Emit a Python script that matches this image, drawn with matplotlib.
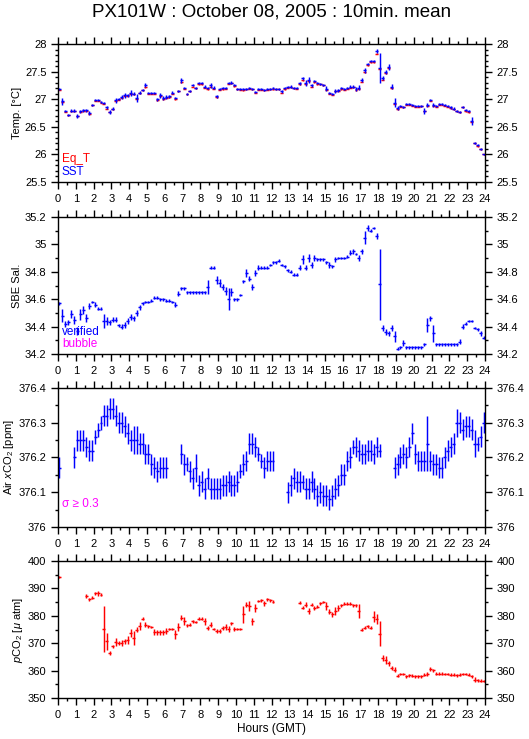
import numpy as np
import matplotlib
matplotlib.use("Agg")
import matplotlib.pyplot as plt
from matplotlib.ticker import MultipleLocator, FuncFormatter

plt.rcParams['font.family'] = ['Liberation Sans', 'DejaVu Sans']
plt.rcParams['mathtext.fontset'] = 'custom'
plt.rcParams['mathtext.rm'] = 'Liberation Sans'
plt.rcParams['mathtext.it'] = 'Liberation Sans:italic'
plt.rcParams['mathtext.sf'] = 'Liberation Sans'

nan = np.nan

# ---- Data: 10-minute bins, 6 values per hour (hour 0 .. 23) ----
sst = [
    27.19, 26.96, 26.78, 26.72, 26.79, 26.79,
    26.70, 26.78, 26.80, 26.80, 26.75, 26.90,
    26.98, 26.98, 26.95, 26.93, 26.85, 26.77,
    26.83, 26.98, 27.00, 27.04, 27.07, 27.07,
    27.11, 27.10, 27.02, 27.12, 27.17, 27.26,
    27.11, 27.11, 27.11, 27.00, 27.07, 27.02,
    27.04, 27.05, 27.12, 27.02, 27.15, 27.34,
    27.20, 27.10, 27.15, 27.26, 27.21, 27.29,
    27.29, 27.23, 27.20, 27.25, 27.21, 27.05,
    27.19, 27.20, 27.21, 27.30, 27.30, 27.26,
    27.19, 27.19, 27.18, 27.19, 27.20, 27.19,
    27.13, 27.18, 27.18, 27.17, 27.18, 27.19,
    27.20, 27.19, 27.19, 27.14, 27.20, 27.22,
    27.23, 27.21, 27.20, 27.29, 27.38, 27.29,
    27.35, 27.25, 27.33, 27.29, 27.28, 27.26,
    27.19, 27.11, 27.09, 27.15, 27.16, 27.20,
    27.18, 27.20, 27.23, 27.23, 27.18, 27.21,
    27.35, 27.52, 27.64, 27.69, 27.69, 27.87,
    27.56, 27.38, 27.49, 27.58, 27.23, 26.94,
    26.84, 26.87, 26.86, 26.91, 26.91, 26.89,
    26.87, 26.87, 26.88, 26.79, 26.89, 26.98,
    26.89, 26.87, 26.91, 26.91, 26.89, 26.87,
    26.85, 26.83, 26.79, 26.77, 26.86, 26.80,
    26.78, 26.61, 26.21, 26.17, 26.10, 26.00,
]
sst_err = [
    .02, .06, .02, .02, .03, .03,
    .04, .03, .03, .03, .04, .02,
    .02, .02, .02, .02, .03, .03,
    .02, .04, .02, .03, .05, .03,
    .05, .03, .07, .02, .02, .03,
    .02, .02, .02, .03, .04, .04,
    .04, .03, .03, .02, .02, .04,
    .02, .02, .02, .02, .02, .02,
    .02, .02, .02, .05, .03, .02,
    .02, .02, .02, .02, .03, .02,
    .02, .02, .02, .02, .02, .02,
    .02, .02, .02, .02, .02, .02,
    .02, .02, .02, .02, .02, .02,
    .02, .02, .02, .03, .03, .05,
    .05, .03, .02, .02, .02, .02,
    .05, .02, .02, .03, .03, .02,
    .02, .02, .02, .02, .04, .04,
    .04, .04, .02, .02, .02, .04,
    .27, .04, .03, .05, .05, .08,
    .03, .02, .02, .02, .02, .02,
    .02, .02, .02, .05, .04, .02,
    .04, .02, .02, .02, .02, .02,
    .02, .02, .02, .02, .02, .02,
    .02, .07, .02, .02, .02, .01,
]
eq_t = [
    27.17, 26.95, 26.77, 26.71, 26.78, 26.78,
    26.69, 26.77, 26.79, 26.79, 26.74, 26.89,
    26.97, 26.97, 26.94, 26.92, 26.83, 26.76,
    26.82, 26.97, 26.99, 27.03, 27.06, 27.06,
    27.10, 27.09, 27.01, 27.11, 27.16, 27.22,
    27.10, 27.10, 27.10, 26.98, 27.05, 27.00,
    27.03, 27.04, 27.10, 27.00, 27.14, 27.31,
    27.19, 27.09, 27.14, 27.23, 27.20, 27.27,
    27.27, 27.21, 27.18, 27.23, 27.19, 27.04,
    27.17, 27.18, 27.19, 27.28, 27.29, 27.24,
    27.18, 27.17, 27.16, 27.18, 27.19, 27.18,
    27.12, 27.17, 27.17, 27.16, 27.17, 27.18,
    27.18, 27.18, 27.18, 27.12, 27.18, 27.21,
    27.22, 27.20, 27.19, 27.27, 27.34, 27.27,
    27.33, 27.23, 27.31, 27.27, 27.27, 27.25,
    27.17, 27.10, 27.08, 27.14, 27.15, 27.18,
    27.17, 27.19, 27.21, 27.22, 27.16, 27.19,
    27.32, 27.49, 27.62, 27.67, 27.67, 27.82,
    27.55, 27.35, 27.47, 27.56, 27.20, 26.92,
    26.82, 26.86, 26.85, 26.90, 26.90, 26.88,
    26.86, 26.86, 26.87, 26.78, 26.88, 26.97,
    26.88, 26.86, 26.90, 26.90, 26.88, 26.86,
    26.84, 26.82, 26.78, 26.76, 26.85, 26.78,
    26.76, 26.59, 26.20, 26.15, 26.09, 26.00,
]

salinity = [
    34.57, 34.48, 34.42, 34.43, 34.49, 34.45,
    34.37, 34.49, 34.52, 34.46, 34.55, 34.58,
    34.56, 34.53, 34.53, 34.44, 34.44, 34.43,
    34.45, 34.45, 34.41, 34.40, 34.41, 34.44,
    34.47, 34.46, 34.50, 34.54, 34.57, 34.58,
    34.58, 34.59, 34.61, 34.61, 34.60, 34.60,
    34.59, 34.59, 34.58, 34.56, 34.64, 34.68,
    34.68, 34.65, 34.65, 34.65, 34.65, 34.65,
    34.65, 34.65, 34.69, 34.83, 34.83, 34.74,
    34.72, 34.69, 34.66, 34.60, 34.65, 34.60,
    34.60, 34.63, 34.73, 34.79, 34.75, 34.69,
    34.79, 34.83, 34.83, 34.83, 34.83, 34.85,
    34.87, 34.87, 34.88, 34.85, 34.84, 34.81,
    34.80, 34.78, 34.78, 34.83, 34.89, 34.83,
    34.90, 34.85, 34.90, 34.89, 34.89, 34.89,
    34.87, 34.85, 34.84, 34.89, 34.90, 34.90,
    34.90, 34.91, 34.94, 34.95, 34.93, 34.90,
    34.95, 35.05, 35.12, 35.10, 35.12, 35.06,
    34.71, 34.39, 34.36, 34.35, 34.39, 34.33,
    34.24, 34.25, 34.28, 34.25, 34.25, 34.25,
    34.25, 34.25, 34.25, 34.27, 34.41, 34.46,
    34.35, 34.27, 34.27, 34.27, 34.27, 34.27,
    34.27, 34.27, 34.27, 34.29, 34.40, 34.42,
    34.44, 34.44, 34.39, 34.38, 34.35, 34.32,
]
salinity_err = [
    .01, .05, .02, .02, .03, .03,
    .03, .04, .03, .03, .02, .01,
    .02, .01, .01, .05, .03, .02,
    .02, .02, .01, .02, .02, .02,
    .02, .02, .02, .02, .01, .01,
    .01, .01, .01, .01, .01, .01,
    .01, .01, .01, .02, .02, .01,
    .01, .01, .01, .01, .01, .01,
    .01, .01, .05, .01, .01, .03,
    .03, .02, .03, .08, .03, .01,
    .01, .01, .01, .03, .02, .02,
    .02, .02, .01, .01, .01, .01,
    .01, .01, .01, .01, .01, .01,
    .01, .01, .01, .02, .03, .02,
    .03, .02, .02, .01, .01, .01,
    .01, .02, .01, .02, .01, .01,
    .01, .01, .02, .02, .01, .02,
    .02, .05, .02, .01, .01, .02,
    .26, .02, .02, .02, .02, .04,
    .01, .01, .02, .01, .01, .01,
    .01, .01, .01, .01, .05, .02,
    .06, .01, .01, .01, .01, .01,
    .01, .01, .01, .02, .02, .01,
    .01, .01, .01, .01, .02, .01,
]

air_xco2 = [
    376.17, nan, nan, nan, nan, 376.20,
    376.25, 376.25, 376.25, 376.23, 376.22, 376.22,
    376.26, 376.28, 376.30, 376.32, 376.32, 376.34,
    376.34, 376.32, 376.30, 376.30, 376.29, 376.27,
    376.25, 376.25, 376.25, 376.24, 376.24, 376.21,
    376.21, 376.18, 376.17, 376.16, 376.17, 376.17,
    376.17, nan, nan, nan, nan, 376.21,
    376.18, 376.18, 376.16, 376.14, 376.17, 376.12,
    376.13, 376.11, 376.14, 376.11, 376.11, 376.11,
    376.11, 376.12, 376.12, 376.13, 376.12, 376.12,
    376.13, 376.16, 376.18, 376.19, 376.24, 376.24,
    376.23, 376.21, 376.19, 376.17, 376.19, 376.19,
    376.19, nan, nan, nan, nan, 376.10,
    376.12, 376.14, 376.13, 376.13, 376.13, 376.11,
    376.11, 376.13, 376.11, 376.09, 376.10, 376.09,
    376.09, 376.08, 376.09, 376.11, 376.12, 376.15,
    376.15, 376.19, 376.20, 376.23, 376.23, 376.22,
    376.21, 376.21, 376.22, 376.22, 376.21, 376.23,
    376.22, nan, nan, nan, nan, 376.17,
    376.18, 376.20, 376.21, 376.20, 376.23, 376.27,
    376.21, 376.19, 376.19, 376.19, 376.24, 376.19,
    376.18, 376.18, 376.17, 376.17, 376.20, 376.22,
    376.23, 376.24, 376.30, 376.30, 376.28, 376.29,
    376.29, 376.28, 376.24, 376.24, 376.26, 376.30,
]
air_xco2_err = [
    .03, nan, nan, nan, nan, .03,
    .03, .03, .03, .03, .03, .03,
    .02, .02, .02, .03, .03, .03,
    .03, .03, .03, .03, .03, .03,
    .03, .04, .04, .03, .03, .03,
    .03, .03, .03, .03, .03, .03,
    .03, nan, nan, nan, nan, .03,
    .03, .02, .03, .03, .04, .03,
    .03, .03, .03, .03, .03, .03,
    .03, .03, .03, .03, .03, .03,
    .03, .02, .03, .03, .03, .03,
    .03, .02, .02, .03, .03, .03,
    .03, nan, nan, nan, nan, .03,
    .03, .03, .03, .03, .02, .03,
    .03, .03, .03, .03, .03, .03,
    .03, .03, .03, .03, .03, .03,
    .03, .03, .03, .02, .03, .03,
    .03, .03, .03, .03, .03, .03,
    .02, nan, nan, nan, nan, .03,
    .03, .03, .03, .03, .03, .03,
    .03, .03, .03, .03, .08, .03,
    .03, .03, .03, .03, .03, .03,
    .03, .03, .04, .03, .03, .03,
    .03, .03, .04, .02, .03, .03,
]

pco2 = [
    394.2, nan, nan, nan, nan, nan,
    nan, nan, nan, 387.2, 386.0, 386.6,
    388.2, 388.2, 387.7, 375.2, 370.7, 366.5,
    368.9, 370.5, 370.1, 370.1, 370.7, 371.3,
    373.8, 372.0, 375.0, 376.2, 378.9, 376.8,
    376.2, 375.9, 374.1, 374.0, 374.0, 374.0,
    374.4, 375.2, 375.2, 373.2, 376.0, 379.3,
    378.0, 376.5, 376.8, 378.0, 377.7, 378.9,
    378.9, 378.0, 375.6, 376.8, 375.2, 374.4,
    374.4, 375.6, 376.0, 375.2, 377.2, 375.2,
    375.2, 375.2, 380.5, 384.1, 383.5, 378.0,
    382.9, 385.4, 385.6, 384.5, 386.0, 385.6,
    385.1, nan, nan, nan, nan, nan,
    nan, nan, nan, 384.8, 382.9, 384.1,
    381.7, 384.1, 382.9, 383.3, 384.5, 385.0,
    383.5, 381.5, 380.5, 381.7, 382.9, 383.8,
    384.4, 384.4, 384.4, 383.8, 383.8, 381.7,
    375.0, 375.6, 376.2, 375.6, 379.6, 378.9,
    373.5, 364.6, 363.8, 362.6, 361.0, 360.4,
    358.2, 358.8, 358.8, 357.9, 358.3, 358.2,
    357.9, 357.9, 357.9, 358.5, 358.8, 360.6,
    360.1, 358.9, 358.9, 358.9, 358.8, 358.8,
    358.5, 358.5, 358.3, 358.5, 358.8, 358.8,
    358.5, 357.9, 356.7, 356.5, 356.3, 356.1,
]
pco2_err = [
    0.5, nan, nan, nan, nan, nan,
    nan, nan, nan, 0.8, 0.5, 0.5,
    0.5, 0.8, 0.5, 8.4, 3.0, 0.8,
    0.5, 1.5, 0.8, 1.0, 1.0, 1.5,
    1.5, 2.5, 0.8, 1.5, 0.5, 0.8,
    0.5, 0.5, 1.0, 1.0, 1.0, 1.0,
    1.0, 0.5, 0.5, 1.5, 1.5, 1.0,
    1.5, 0.5, 0.5, 0.5, 0.5, 0.5,
    0.5, 1.2, 0.8, 1.0, 0.5, 0.8,
    0.8, 0.8, 1.0, 1.2, 0.5, 0.8,
    0.5, 0.5, 3.0, 0.8, 1.8, 1.2,
    1.5, 0.5, 0.5, 0.8, 0.5, 0.5,
    0.5, nan, nan, nan, nan, nan,
    nan, nan, nan, 0.5, 0.5, 0.8,
    1.2, 0.5, 0.8, 0.5, 0.5, 0.5,
    1.5, 0.8, 0.8, 1.5, 1.0, 0.5,
    0.5, 0.5, 0.5, 0.5, 0.5, 2.6,
    0.5, 0.5, 0.5, 0.5, 2.0, 1.8,
    4.5, 1.0, 1.5, 0.8, 0.8, 1.0,
    0.5, 0.5, 0.5, 0.5, 0.5, 0.5,
    0.5, 0.5, 0.5, 0.5, 0.8, 0.8,
    0.5, 0.5, 0.5, 0.5, 0.5, 0.5,
    0.5, 0.5, 0.5, 0.5, 0.5, 0.5,
    0.5, 0.5, 0.8, 0.5, 0.5, 0.3,
]

hour_ticks = list(range(0, 25))
title = "PX101W : October 08, 2005 : 10min. mean"

# ---- Figure ----
W, H = 529, 739
fig = plt.figure(figsize=(W / 100, H / 100), dpi=100)

bin_w = 1.0 / 6.0
t = np.arange(len(sst)) * bin_w + bin_w / 2.0

panels = [(44, 182), (217, 354), (388, 527), (561, 698)]
LW = 1.05

def make_ax(top, bottom):
    ax = fig.add_axes([58 / W, 1 - bottom / H, 427 / W, (bottom - top) / H])
    ax.set_xlim(0, 24)
    ax.xaxis.set_major_locator(MultipleLocator(1))
    ax.xaxis.set_minor_locator(MultipleLocator(0.5))
    ax.set_xticks(hour_ticks)
    ax.set_xticklabels([str(h) for h in hour_ticks])
    ax.tick_params(axis='both', which='both', direction='out', width=1.0,
                   top=True, right=True, labelright=True, labelsize=8)
    ax.tick_params(axis='both', which='major', length=4.8)
    ax.tick_params(axis='both', which='minor', length=2.4)
    ax.tick_params(axis='x', which='major', pad=3.5)
    ax.tick_params(axis='y', which='major', pad=3.5)
    ax.yaxis.set_major_formatter(FuncFormatter(lambda v, p: f"{v:g}"))
    for s in ax.spines.values():
        s.set_linewidth(1.0)
    return ax

def draw(ax, y, err, color):
    _, _, bars = ax.errorbar(t, y, xerr=bin_w / 2.0, yerr=err, fmt='none',
                             ecolor=color, elinewidth=LW, capsize=0)
    for b in bars:
        b.set_capstyle('butt')

# Panel 1: temperatures
ax1 = make_ax(*panels[0])
draw(ax1, eq_t, 0.01, 'red')
draw(ax1, sst, sst_err, 'blue')
ax1.set_ylim(25.5, 28)
ax1.yaxis.set_major_locator(MultipleLocator(0.5))
ax1.yaxis.set_minor_locator(MultipleLocator(0.1))
ax1.set_ylabel("Temp. [°C]", fontsize=8, labelpad=2)
ax1.text(0.009, 0.167, "Eq_T", color='red', fontsize=8.5, transform=ax1.transAxes,
         ha='left', va='center')
ax1.text(0.009, 0.075, "SST", color='blue', fontsize=8.5, transform=ax1.transAxes,
         ha='left', va='center')

# Panel 2: salinity
ax2 = make_ax(*panels[1])
draw(ax2, salinity, salinity_err, 'blue')
ax2.set_ylim(34.2, 35.2)
ax2.yaxis.set_major_locator(MultipleLocator(0.2))
ax2.yaxis.set_minor_locator(MultipleLocator(0.1))
ax2.set_ylabel("SBE Sal.", fontsize=8, labelpad=2)
ax2.text(0.009, 0.16, "verified", color='blue', fontsize=8.5, transform=ax2.transAxes,
         ha='left', va='center')
ax2.text(0.009, 0.073, "bubble", color='magenta', fontsize=8.5, transform=ax2.transAxes,
         ha='left', va='center')

# Panel 3: air xCO2
ax3 = make_ax(*panels[2])
draw(ax3, air_xco2, air_xco2_err, 'blue')
ax3.set_ylim(376.0, 376.4)
ax3.yaxis.set_major_locator(MultipleLocator(0.1))
ax3.yaxis.set_minor_locator(MultipleLocator(0.05))
ax3.set_ylabel(r"Air $x$CO$_2$ [ppm]", fontsize=8, labelpad=2)
ax3.text(0.009, 0.165, "σ ≥ 0.3", color='magenta', fontsize=8.5, transform=ax3.transAxes,
         ha='left', va='center')

# Panel 4: pCO2
ax4 = make_ax(*panels[3])
draw(ax4, pco2, pco2_err, 'red')
ax4.set_ylim(350, 400)
ax4.yaxis.set_major_locator(MultipleLocator(10))
ax4.yaxis.set_minor_locator(MultipleLocator(5))
ax4.set_ylabel(r"$p$CO$_2$ [$\mu$ atm]", fontsize=8, labelpad=2)

fig.text(271.5 / W, 1 - 729 / H, "Hours (GMT)", ha='center', va='center', fontsize=8.5)
fig.text(271.5 / W, 1 - 12 / H, title, ha='center', va='center', fontsize=13.5)

fig.savefig("out.png", dpi=100)
